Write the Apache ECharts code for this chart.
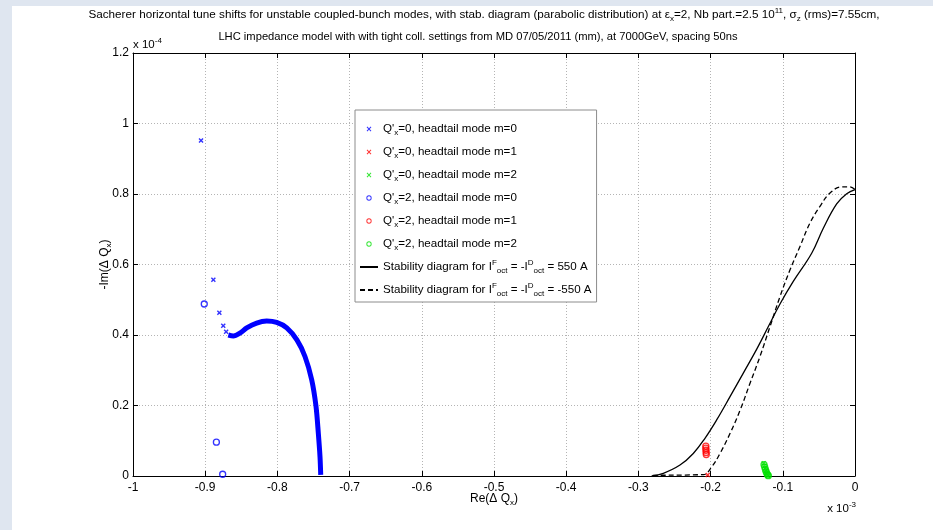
<!DOCTYPE html>
<html><head><meta charset="utf-8">
<script src="https://cdn.jsdelivr.net/npm/echarts@6/dist/echarts.min.js"></script>
<style>
html,body{margin:0;padding:0;background:#dfe6f0;overflow:hidden;}
#bg{position:absolute;left:12px;top:6px;width:921px;height:524px;background:#fff;}
#chart{position:absolute;left:0;top:0;width:933px;height:530px;}
</style></head><body><div id="bg"></div><div id="chart"></div>
<script>
// ---- tick labels (x in units of 1e-3, y in units of 1e-4) ----
const xTickValues = [-1, -0.9, -0.8, -0.7, -0.6, -0.5, -0.4, -0.3, -0.2, -0.1, 0];
const xTickLabels = ['-1', '-0.9', '-0.8', '-0.7', '-0.6', '-0.5', '-0.4', '-0.3', '-0.2', '-0.1', '0'];
const yTickValues = [0, 0.2, 0.4, 0.6, 0.8, 1, 1.2];
const yTickLabels = ['0', '0.2', '0.4', '0.6', '0.8', '1', '1.2'];

// ---- series names ----
const seriesNames = [
  "Q'x=0, headtail mode m=0",
  "Q'x=0, headtail mode m=1",
  "Q'x=0, headtail mode m=2",
  "Q'x=2, headtail mode m=0",
  "Q'x=2, headtail mode m=1",
  "Q'x=2, headtail mode m=2",
  "Stability diagram for IFoct = -IDoct = 550 A",
  "Stability diagram for IFoct = -IDoct = -550 A"
];

// ---- data: [Re(dQ) x1e-3, -Im(dQ) x1e-4] ----
const q0m0Isolated = [[-0.9058,0.952],[-0.8887,0.557],[-0.8804,0.463],[-0.875,0.426],[-0.871,0.409]];
const q0m0Dense = [[-0.868,0.400],[-0.861,0.397],[-0.852,0.405],[-0.8425,0.420],[-0.8287,0.434],[-0.8148,0.4395],
  [-0.801,0.4356],[-0.787,0.420],[-0.773,0.386],[-0.7618,0.339],[-0.7525,0.273],[-0.7465,0.197],[-0.7433,0.121],
  [-0.741,0.055],[-0.740,0.003]];
const q0m1 = [[-0.204,0.003]];
const q0m2 = [[-0.1265,0.036],[-0.1255,0.029],[-0.1245,0.022],[-0.1235,0.015],[-0.1225,0.009],[-0.1215,0.004],[-0.1205,0.001]];
const q2m0 = [[-0.9013,0.488],[-0.8845,0.096],[-0.8758,0.005]];
const q2m1 = [[-0.2066,0.085],[-0.2066,0.079],[-0.2064,0.073],[-0.2062,0.067],[-0.2060,0.061]];
const q2m2 = [[-0.1260,0.032],[-0.1250,0.025],[-0.1240,0.018],[-0.1230,0.012],[-0.1220,0.007],[-0.1210,0.003],[-0.1200,0.001]];
const stabPos = [[-0.2816,0],[-0.2655,0.0076],[-0.2424,0.031],[-0.224,0.064],[-0.2078,0.107],[-0.1916,0.159],
  [-0.1731,0.225],[-0.1547,0.292],[-0.1361,0.360],[-0.12,0.424],[-0.1039,0.488],[-0.0855,0.552],[-0.06,0.632],
  [-0.0439,0.703],[-0.0254,0.772],[-0.0115,0.801],[0,0.8125]];
const stabNeg = [[-0.28,0.002],[-0.21,0.004],[-0.1985,0.026],[-0.187,0.064],[-0.173,0.121],[-0.159,0.1875],
  [-0.1454,0.263],[-0.1316,0.339],[-0.1177,0.424],[-0.1039,0.509],[-0.09,0.585],[-0.0762,0.651],[-0.0623,0.718],
  [-0.0485,0.765],[-0.0346,0.803],[-0.0184,0.820],[-0.007,0.820],[0,0.8125]];

const FONT = 'Liberation Sans, Arial, Helvetica, sans-serif';
const BLUE = '#0000ff', RED = '#ff0000', GREEN = '#00e000';
const X_SYM = 'path://M0,2L2,0L5,3L8,0L10,2L7,5L10,8L8,10L5,7L2,10L0,8L3,5Z';
const X_ICON = 'path://M0,0M20,20M6.6,7.6L7.6,6.6L10,9L12.4,6.6L13.4,7.6L11,10L13.4,12.4L12.4,13.4L10,11L7.6,13.4L6.6,12.4L9,10Z';
const O_ICON = 'path://M0,0M20,20M10,6.2A3.8,3.8,0,1,1,9.99,6.2ZM10,7.5A2.5,2.5,0,1,0,10.01,7.5Z';

function lab(vals, labels) {
  return function (v) {
    for (let i = 0; i < vals.length; i++) if (Math.abs(vals[i] - v) < 1e-9) return labels[i];
    return '';
  };
}
const subsup = {
  sub: { fontSize: 8, verticalAlign: 'bottom', fontFamily: FONT, color: '#000' },
  sup: { fontSize: 8, verticalAlign: 'top', fontFamily: FONT, color: '#000' }
};
const legendLabels = [
  "Q'{sub|x}=0, headtail mode m=0",
  "Q'{sub|x}=0, headtail mode m=1",
  "Q'{sub|x}=0, headtail mode m=2",
  "Q'{sub|x}=2, headtail mode m=0",
  "Q'{sub|x}=2, headtail mode m=1",
  "Q'{sub|x}=2, headtail mode m=2",
  "Stability diagram for I{sup|F}{sub|oct} = -I{sup|D}{sub|oct} = 550 A",
  "Stability diagram for I{sup|F}{sub|oct} = -I{sup|D}{sub|oct} = -550 A"
];

const chart = echarts.init(document.getElementById('chart'), null, { renderer: 'canvas' });
const axisLineStyle = { color: '#000', width: 1 };
const gridStyle = { color: '#b4b4b4', type: [1, 2], width: 1 };

function xSeries(name, data, color) {
  return { name, type: 'scatter', data, symbol: X_SYM, symbolSize: 5, itemStyle: { color }, z: 5 };
}
function oSeries(name, data, color) {
  return { name, type: 'scatter', data, symbol: 'circle', symbolSize: 6,
    itemStyle: { color: 'transparent', borderColor: color, borderWidth: 1.3 }, z: 5 };
}

const option = {
  animation: false,
  backgroundColor: 'transparent',
  textStyle: { fontFamily: FONT },
  grid: { left: 133, right: 78, top: 53, bottom: 54, containLabel: false },
  xAxis: [{
    type: 'value', min: xTickValues[0], max: xTickValues[xTickValues.length - 1], interval: 0.1,
    position: 'bottom',
    axisLine: { show: true, onZero: false, lineStyle: axisLineStyle },
    axisTick: { show: true, inside: true, length: 5, lineStyle: axisLineStyle },
    axisLabel: { show: true, margin: 6, color: '#000', fontSize: 12, fontFamily: FONT, formatter: lab(xTickValues, xTickLabels) },
    splitLine: { show: true, lineStyle: gridStyle },
    name: 'Re(Δ Q{sub|x})', nameLocation: 'middle', nameGap: 15, nameMoveOverlap: false,
    nameTextStyle: { color: '#000', fontSize: 12, fontFamily: FONT, rich: subsup, lineHeight: 16 }
  }, {
    type: 'value', min: xTickValues[0], max: xTickValues[xTickValues.length - 1], interval: 0.1,
    position: 'top',
    axisLine: { show: true, onZero: false, lineStyle: axisLineStyle },
    axisTick: { show: true, inside: true, length: 5, lineStyle: axisLineStyle },
    axisLabel: { show: false }, splitLine: { show: false }
  }],
  yAxis: [{
    type: 'value', min: yTickValues[0], max: yTickValues[yTickValues.length - 1], interval: 0.2,
    position: 'left',
    axisLine: { show: true, onZero: false, lineStyle: axisLineStyle },
    axisTick: { show: true, inside: true, length: 5, lineStyle: axisLineStyle },
    axisLabel: { show: true, margin: 4, color: '#000', fontSize: 12, fontFamily: FONT, formatter: lab(yTickValues, yTickLabels) },
    splitLine: { show: true, lineStyle: gridStyle },
    name: '-Im(Δ Q{sub|x})', nameLocation: 'middle', nameGap: 20, nameMoveOverlap: false,
    nameTextStyle: { color: '#000', fontSize: 12, fontFamily: FONT, rich: subsup, lineHeight: 16 }
  }, {
    type: 'value', min: yTickValues[0], max: yTickValues[yTickValues.length - 1], interval: 0.2,
    position: 'right',
    axisLine: { show: true, onZero: false, lineStyle: axisLineStyle },
    axisTick: { show: true, inside: true, length: 5, lineStyle: axisLineStyle },
    axisLabel: { show: false }, splitLine: { show: false }
  }],
  legend: {
    orient: 'vertical', left: 355, top: 110,
    backgroundColor: '#fff', borderColor: '#8c8c8c', borderWidth: 1,
    padding: [11, 5, 4, 4], itemWidth: 18, itemHeight: 14, itemGap: 7,
    textStyle: { color: '#000', fontSize: 11.6, fontFamily: FONT, lineHeight: 16, rich: subsup },
    formatter: function (name) { return legendLabels[seriesNames.indexOf(name)]; },
    data: [
      { name: seriesNames[0], icon: X_ICON },
      { name: seriesNames[1], icon: X_ICON },
      { name: seriesNames[2], icon: X_ICON },
      { name: seriesNames[3], icon: O_ICON, itemStyle: { color: BLUE, borderWidth: 0 } },
      { name: seriesNames[4], icon: O_ICON, itemStyle: { color: RED, borderWidth: 0 } },
      { name: seriesNames[5], icon: O_ICON, itemStyle: { color: GREEN, borderWidth: 0 } },
      { name: seriesNames[6], itemStyle: { opacity: 0 } },
      { name: seriesNames[7], itemStyle: { opacity: 0 } }
    ],
    selectedMode: false
  },
  graphic: [
    { type: 'text', x: 484, y: 15, style: { text: 'Sacherer horizontal tune shifts for unstable coupled-bunch modes, with stab. diagram (parabolic distribution) at ε{sub|x}=2, Nb part.=2.5 10{sup|11}, σ{sub|z} (rms)=7.55cm,', fill: '#000', fontSize: 11.7, fontFamily: FONT, align: 'center', verticalAlign: 'middle', lineHeight: 16, rich: subsup } },
    { type: 'text', x: 478, y: 37, style: { text: 'LHC impedance model with with tight coll. settings from MD 07/05/2011 (mm), at 7000GeV, spacing 50ns', fill: '#000', fontSize: 11.2, fontFamily: FONT, align: 'center', verticalAlign: 'middle' } },
    { type: 'text', x: 133, y: 45, style: { text: 'x 10{sup|-4}', fill: '#000', fontSize: 11.5, fontFamily: FONT, align: 'left', verticalAlign: 'middle', lineHeight: 16, rich: subsup } },
    { type: 'text', x: 856, y: 509, style: { text: 'x 10{sup|-3}', fill: '#000', fontSize: 11.5, fontFamily: FONT, align: 'right', verticalAlign: 'middle', lineHeight: 16, rich: subsup } }
  ],
  series: [
    xSeries(seriesNames[0], q0m0Isolated, BLUE),
    { name: seriesNames[0], type: 'line', data: q0m0Dense, symbol: 'none', smooth: 0.3,
      lineStyle: { color: BLUE, width: 5 }, itemStyle: { color: BLUE }, z: 4 },
    xSeries(seriesNames[1], q0m1, RED),
    xSeries(seriesNames[2], q0m2, GREEN),
    oSeries(seriesNames[3], q2m0, BLUE),
    oSeries(seriesNames[4], q2m1, RED),
    oSeries(seriesNames[5], q2m2, GREEN),
    { name: seriesNames[6], type: 'line', data: stabPos, symbol: 'none', smooth: 0.4,
      lineStyle: { color: '#000', width: 1.3 }, itemStyle: { color: '#000' }, z: 3 },
    { name: seriesNames[7], type: 'line', data: stabNeg, symbol: 'none', smooth: 0.4,
      lineStyle: { color: '#000', width: 1.3, type: [5, 3] }, itemStyle: { color: '#000' }, z: 3 }
  ]
};
chart.setOption(option);
</script></body></html>
